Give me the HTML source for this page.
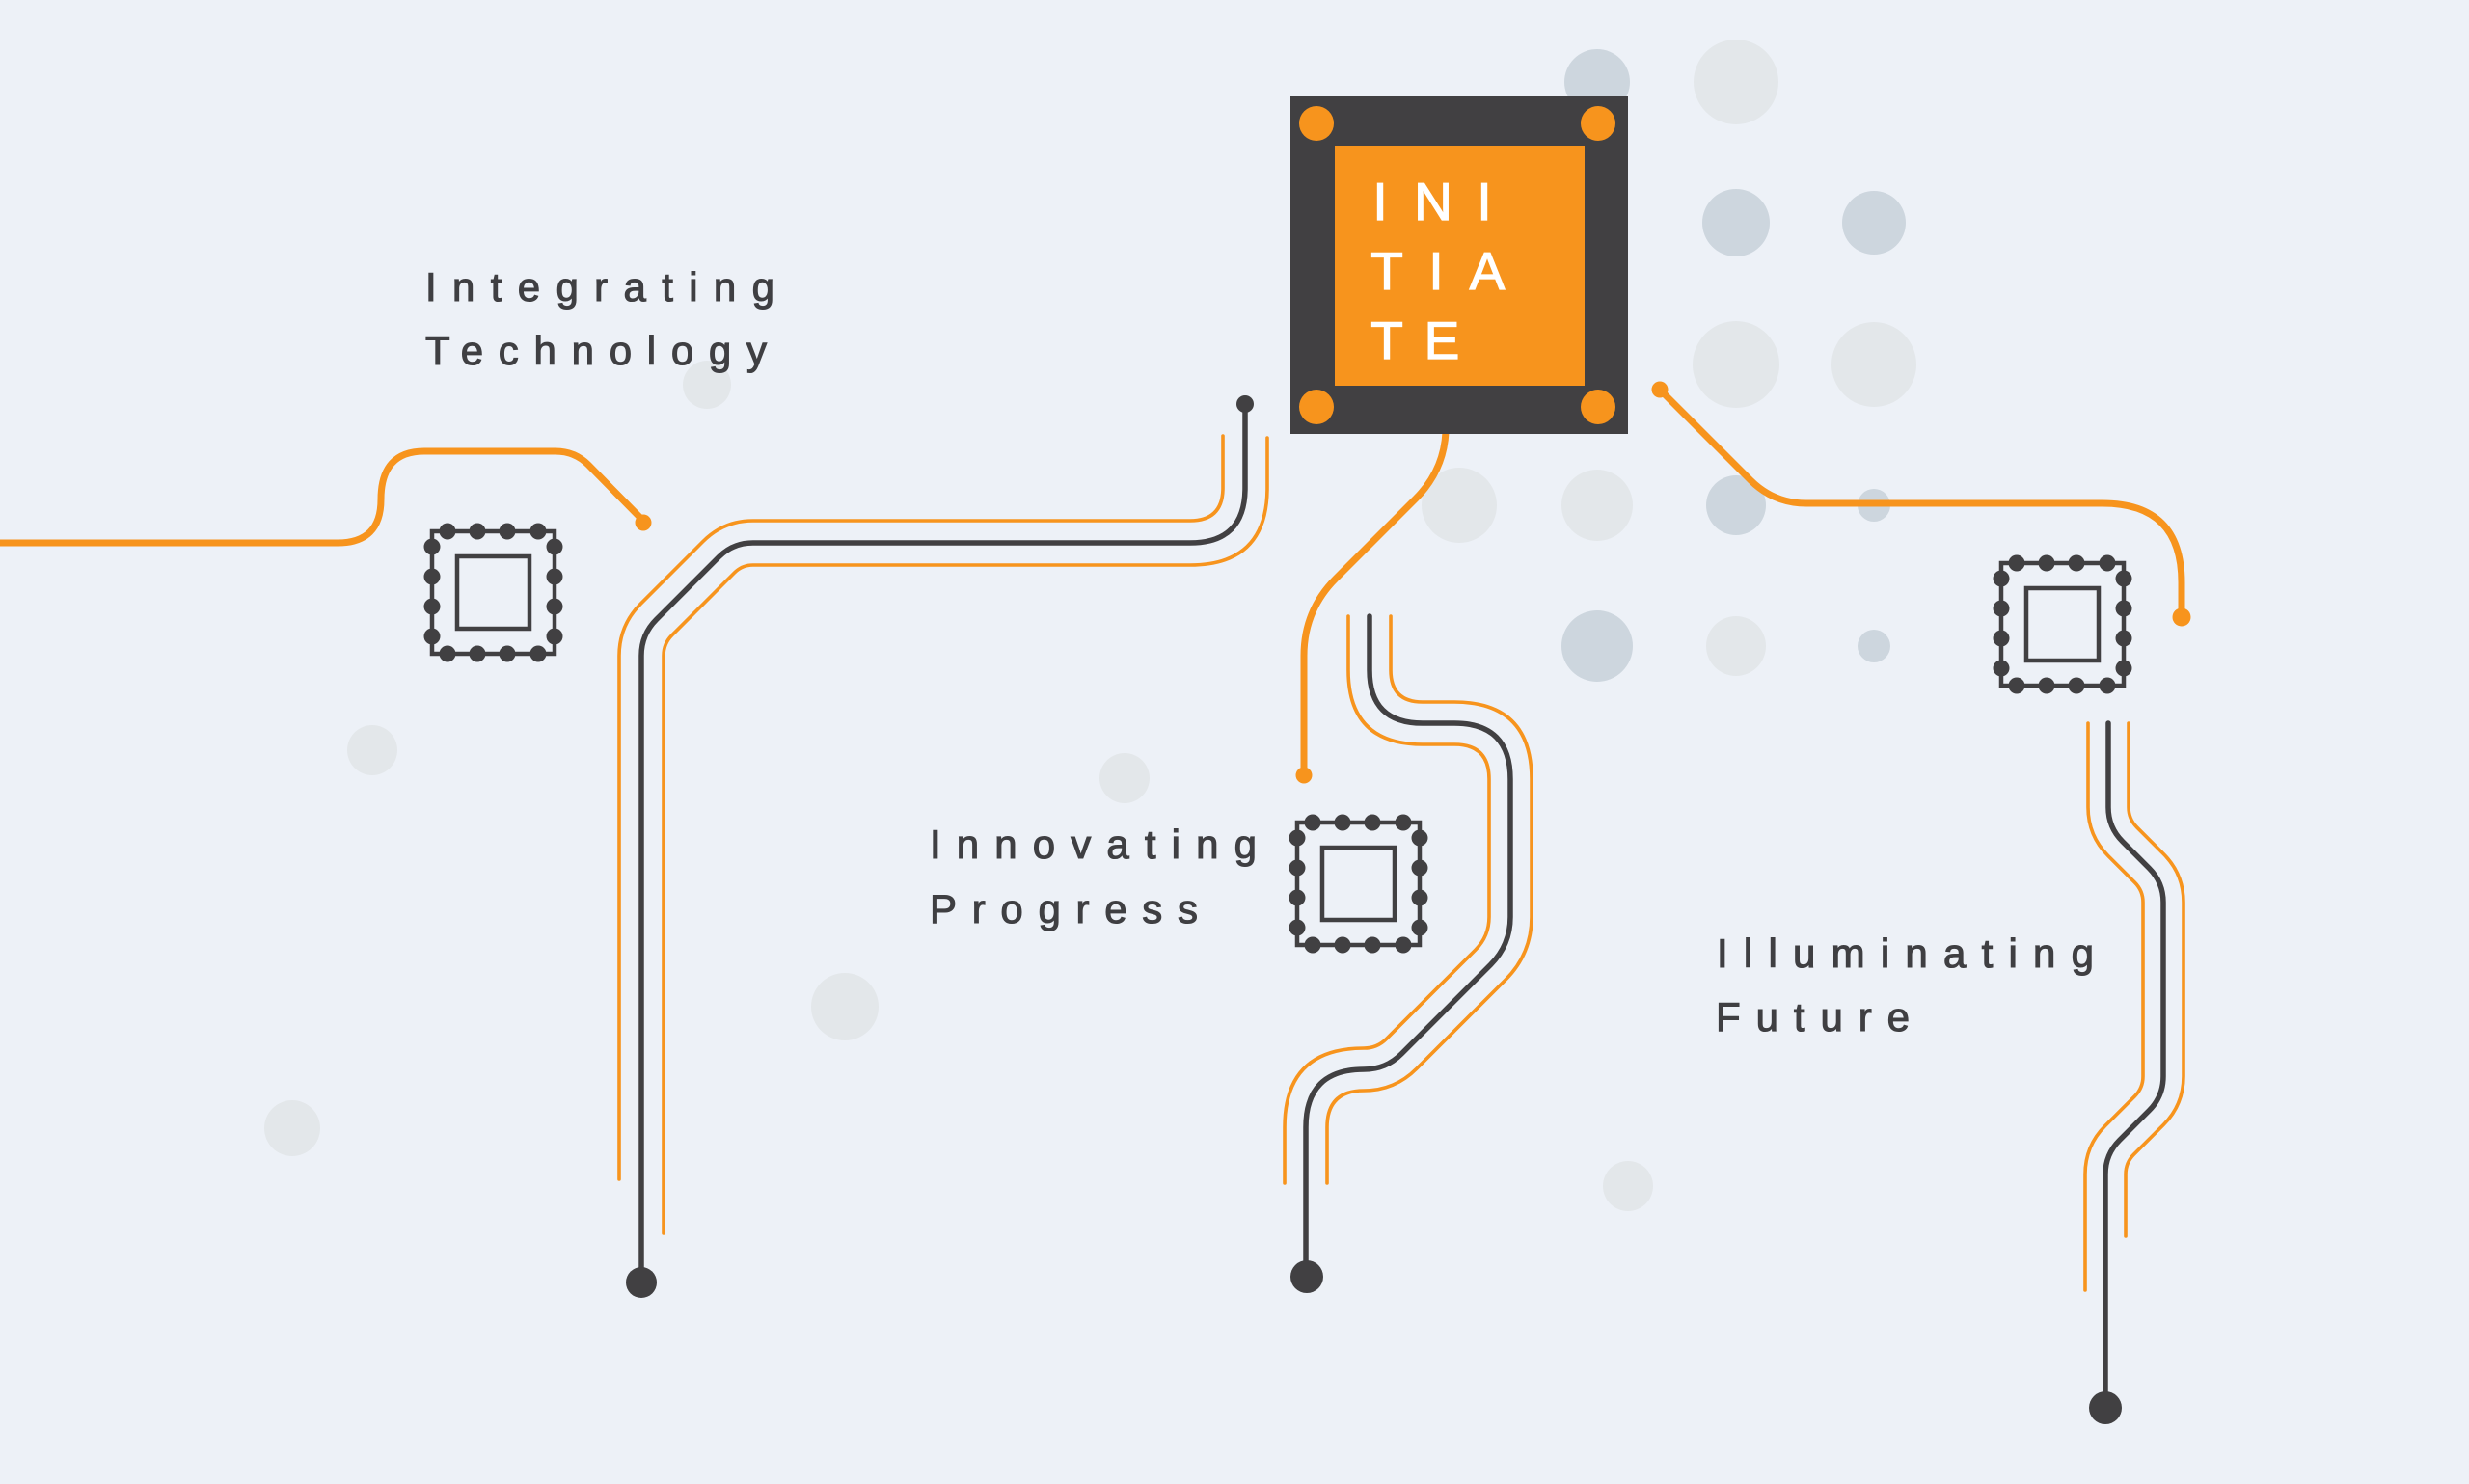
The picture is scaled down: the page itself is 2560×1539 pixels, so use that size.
<!DOCTYPE html>
<html>
<head>
<meta charset="utf-8">
<style>
html,body{margin:0;padding:0;background:#edf1f7;overflow:hidden;}
svg{display:block;}
.lbl{font-family:"Liberation Sans",sans-serif;font-size:42px;fill:#3f3f42;stroke:#3f3f42;stroke-width:1.1px;}
.ini{font-family:"Liberation Sans",sans-serif;font-size:55px;fill:#ffffff;stroke:#ffffff;stroke-width:1.2px;text-anchor:middle;}
</style>
</head>
<body>
<svg width="2560" height="1539" viewBox="0 0 2560 1539" xmlns="http://www.w3.org/2000/svg">
<defs>
<g id="chip">
<rect x="0" y="0" width="127" height="127" fill="none" stroke="#414042" stroke-width="4.5"/>
<rect x="26" y="26" width="75" height="75" fill="none" stroke="#414042" stroke-width="4.5"/>
<g fill="#414042">
<circle cx="16" cy="0" r="8.5"/><circle cx="47" cy="0" r="8.5"/><circle cx="78" cy="0" r="8.5"/><circle cx="110" cy="0" r="8.5"/>
<circle cx="16" cy="127" r="8.5"/><circle cx="47" cy="127" r="8.5"/><circle cx="78" cy="127" r="8.5"/><circle cx="110" cy="127" r="8.5"/>
<circle cx="0" cy="16" r="8.5"/><circle cx="0" cy="47" r="8.5"/><circle cx="0" cy="78" r="8.5"/><circle cx="0" cy="109" r="8.5"/>
<circle cx="127" cy="16" r="8.5"/><circle cx="127" cy="47" r="8.5"/><circle cx="127" cy="78" r="8.5"/><circle cx="127" cy="109" r="8.5"/>
</g>
</g>
</defs>

<rect x="0" y="0" width="2560" height="1539" fill="#edf1f7"/>

<!-- background circles -->
<g>
<circle cx="1656" cy="85" r="34" fill="#cdd6de"/>
<circle cx="1800" cy="85" r="44" fill="#e3e7ea"/>
<circle cx="1800" cy="231" r="35" fill="#cdd6de"/>
<circle cx="1943" cy="231" r="33" fill="#cdd6de"/>
<circle cx="1800" cy="378" r="45" fill="#e3e7ea"/>
<circle cx="1943" cy="378" r="44" fill="#e3e7ea"/>
<circle cx="1513" cy="524" r="39" fill="#e3e7ea"/>
<circle cx="1656" cy="524" r="37" fill="#e3e7ea"/>
<circle cx="1800" cy="524" r="31" fill="#cdd6de"/>
<circle cx="1943" cy="524" r="17" fill="#cdd6de"/>
<circle cx="1656" cy="670" r="37" fill="#cdd6de"/>
<circle cx="1800" cy="670" r="31" fill="#e3e7ea"/>
<circle cx="1943" cy="670" r="17" fill="#cdd6de"/>
<circle cx="733" cy="399" r="25" fill="#e3e7ea"/>
<circle cx="386" cy="778" r="26" fill="#e3e7ea"/>
<circle cx="1166" cy="807" r="26" fill="#e3e7ea"/>
<circle cx="876" cy="1044" r="35" fill="#e3e7ea"/>
<circle cx="303" cy="1170" r="29" fill="#e3e7ea"/>
<circle cx="1688" cy="1230" r="26" fill="#e3e7ea"/>
</g>

<!-- single orange traces -->
<g fill="none" stroke="#f7941d" stroke-width="7" stroke-linecap="round" stroke-linejoin="round">
<path d="M-5 563 L350 563 Q395 563 395 518 Q395 468 440 468 L576 468 Q596 468 610 482 L666 539"/>
<path d="M1499 448 Q1497 488 1468 517 L1385 600 Q1352 633 1352 680 L1352 804"/>
<path d="M1721 404 L1815 498 Q1839 522 1873 522 L2180 522 Q2262 522 2262 604 L2262 640"/>
</g>
<g fill="#f7941d">
<circle cx="667" cy="542" r="8.5"/>
<circle cx="1352" cy="804" r="8.5"/>
<circle cx="1721" cy="404" r="8.5"/>
<circle cx="2262" cy="640" r="9.5"/>
</g>

<!-- triple traces: orange -->
<g fill="none" stroke="#f7941d" stroke-width="3.6" stroke-linecap="round" stroke-linejoin="round">
<path d="M1268 452 L1268 506 Q1268 540 1234 540 L780.7 540 Q750.5 540 729.1 561.4 L664.3 626.2 Q642 648.5 642 680 L642 1223"/>
<path d="M1314 454 L1314 506 Q1314 586 1234 586 L780.7 586 Q769.5 586 761.6 593.9 L696.8 658.7 Q688 667.5 688 679.9 L688 1279"/>
<path d="M1398 639 L1398 695 Q1398 772 1475 772 L1508 772 Q1544 772 1544 808 L1544 951 Q1544 970.9 1529.9 985 L1437.6 1077.3 Q1427.9 1087 1414.2 1087 Q1332 1087 1332 1169 L1332 1227"/>
<path d="M1442 639 L1442 695 Q1442 728 1475 728 L1508 728 Q1588 728 1588 808 L1588 951 Q1588 989.1 1561.1 1016 L1468.7 1108.4 Q1446.1 1131 1414.2 1131 Q1376 1131 1376 1169 L1376 1227"/>
<path d="M2165 750 L2165 837.3 Q2165 866.7 2185.8 887.5 L2213.5 915.2 Q2222 923.7 2222 935.7 L2222 1116.3 Q2222 1128.3 2213.5 1136.8 L2182.8 1167.5 Q2162 1188.3 2162 1217.7 L2162 1338"/>
<path d="M2207 750 L2207 837.3 Q2207 849.3 2215.5 857.8 L2243.2 885.5 Q2264 906.3 2264 935.7 L2264 1116.3 Q2264 1145.7 2243.2 1166.5 L2212.5 1197.2 Q2204 1205.7 2204 1217.7 L2204 1282"/>
</g>

<!-- triple traces: dark -->
<g fill="none" stroke="#414042" stroke-width="5.5" stroke-linecap="round" stroke-linejoin="round">
<path d="M1291 419 L1291 506 Q1291 563 1234 563 L780.7 563 Q760 563 745.4 577.6 L680.5 642.5 Q665 658 665 679.9 L665 1330"/>
<path d="M1420 639 L1420 695 Q1420 750 1475 750 L1508 750 Q1566 750 1566 808 L1566 951 Q1566 980 1545.5 1000.5 L1453.1 1092.9 Q1437 1109 1414.2 1109 Q1354 1109 1354 1169 L1354 1324"/>
<path d="M2186 750 L2186 837.3 Q2186 858 2200.6 872.6 L2228.4 900.4 Q2243 915 2243 935.7 L2243 1116.3 Q2243 1137 2228.4 1151.6 L2197.6 1182.4 Q2183 1197 2183 1217.7 L2183 1460"/>
</g>
<g fill="#414042">
<circle cx="1291" cy="419" r="9"/>
<circle cx="665" cy="1330" r="16"/>
<circle cx="1355" cy="1324" r="17"/>
<circle cx="2183" cy="1460" r="17"/>
</g>

<!-- small chips -->
<use href="#chip" x="448" y="551"/>
<use href="#chip" x="1345" y="853"/>
<use href="#chip" x="2075" y="584"/>

<!-- main chip -->
<rect x="1338" y="100" width="350" height="350" fill="#414042"/>
<rect x="1384" y="151" width="259" height="249" fill="#f7941d"/>
<g fill="#f7941d">
<circle cx="1365" cy="128" r="18"/>
<circle cx="1657" cy="128" r="18"/>
<circle cx="1365" cy="422" r="18"/>
<circle cx="1657" cy="422" r="18"/>
</g>
<text class="ini" x="1431" y="228">I</text>
<text class="ini" x="1486" y="228">N</text>
<text class="ini" x="1539" y="228">I</text>
<text class="ini" x="1438" y="300">T</text>
<text class="ini" x="1489" y="300">I</text>
<text class="ini" x="1542" y="300">A</text>
<text class="ini" x="1438" y="372">T</text>
<text class="ini" x="1495" y="372">E</text>

<!-- labels -->
<text class="lbl" x="441" y="312" textLength="362" lengthAdjust="spacing">Integrating</text>
<text class="lbl" x="441" y="378" textLength="354" lengthAdjust="spacing">Technology</text>
<text class="lbl" x="964" y="890" textLength="339" lengthAdjust="spacing">Innovating</text>
<text class="lbl" x="964" y="957" textLength="278" lengthAdjust="spacing">Progress</text>
<text class="lbl" x="1780" y="1003" textLength="391" lengthAdjust="spacing">Illuminating</text>
<text class="lbl" x="1779" y="1069" textLength="201" lengthAdjust="spacing">Future</text>
</svg>
</body>
</html>
